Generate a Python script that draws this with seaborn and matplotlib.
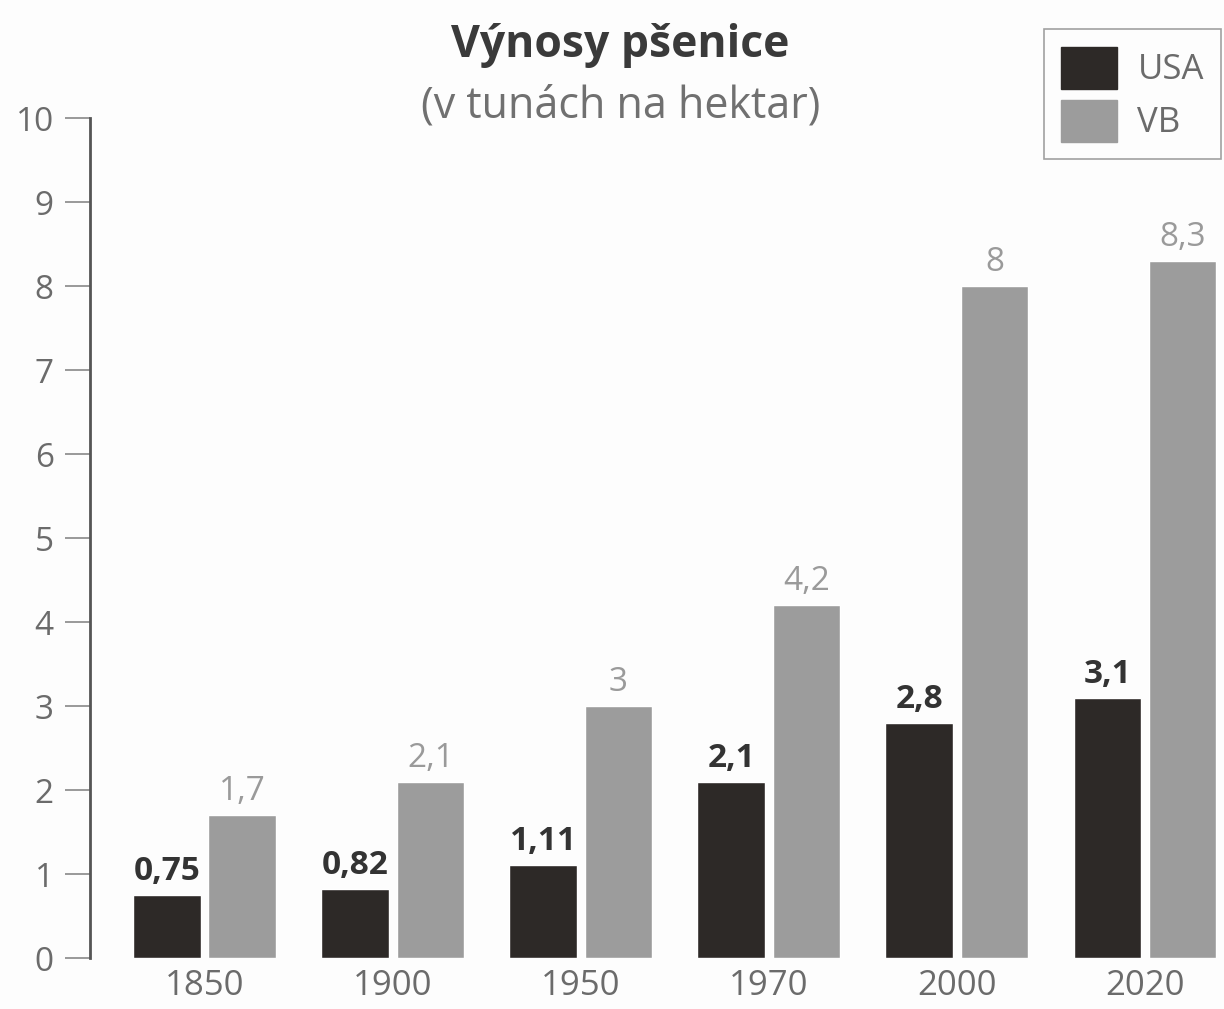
import matplotlib
matplotlib.use("Agg")
import matplotlib.pyplot as plt
import seaborn as sns
import pandas as pd

# data
years = ["1850", "1900", "1950", "1970", "2000", "2020"]
usa = [0.75, 0.82, 1.11, 2.1, 2.8, 3.1]
vb = [1.7, 2.1, 3.0, 4.2, 8.0, 8.3]
countries = ["USA", "VB"]
y_ticks = list(range(0, 11))

title = "Výnosy pšenice"
subtitle = "(v tunách na hektar)"

df = pd.DataFrame({
    "year": years * 2,
    "value": usa + vb,
    "country": ["USA"] * len(years) + ["VB"] * len(years),
})

sns.set_style("white")
plt.rcParams["font.family"] = ["Open Sans", "DejaVu Sans"]

axis_grey = "#6b6b6b"
colors = {"USA": "#2d2927", "VB": "#9c9c9c"}

fig = plt.figure(figsize=(12.24, 10.09), dpi=100)
fig.patch.set_facecolor("#fdfdfd")
ax = fig.add_axes([0.0735, 0.0505, 0.9265, 0.8325])
ax.set_facecolor("#fdfdfd")

sns.barplot(
    data=df, x="year", y="value", hue="country",
    hue_order=countries, palette=colors,
    width=0.8, gap=0.1, saturation=1, ax=ax, legend=False,
)

ax.set_xlim(-0.61, 5.42)
ax.set_ylim(0, 10)
ax.set_yticks(y_ticks)
ax.set_xlabel("")
ax.set_ylabel("")

for side in ["top", "right", "bottom"]:
    ax.spines[side].set_visible(False)
ax.spines["left"].set_color("#555555")
ax.spines["left"].set_linewidth(2)

ax.tick_params(axis="y", left=True, length=18, width=1.2, color="#888888",
               labelsize=24, labelcolor=axis_grey, pad=8)
ax.tick_params(axis="x", bottom=False, length=0, labelsize=25,
               labelcolor=axis_grey, pad=8)

# value labels above each bar, decimal comma
label_styles = [
    dict(color="#333333", fontweight="bold"),
    dict(color="#9a9a9a", fontweight="normal"),
]
for cont, vals, style in zip(ax.containers, [usa, vb], label_styles):
    ax.bar_label(cont, labels=[f"{v:g}".replace(".", ",") for v in vals],
                 padding=5, fontsize=24, **style)

fig.text(0.507, 0.955, title, ha="center", va="center",
         fontsize=32, fontweight="bold", color="#3a3a3a")
fig.text(0.507, 0.895, subtitle, ha="center", va="center",
         fontsize=31, color="#707070")

handles = [plt.Rectangle((0, 0), 1, 1, color=colors[c]) for c in countries]
leg = fig.legend(
    handles, countries, loc="upper right", bbox_to_anchor=(1.012, 0.988),
    fontsize=25, handlelength=1.6, handleheight=1.5, handletextpad=0.6,
    labelspacing=0.3, borderpad=0.5, frameon=True, fancybox=False,
    labelcolor=axis_grey,
)
leg.get_frame().set_edgecolor("#8a8a8a")
leg.get_frame().set_linewidth(1.2)
leg.get_frame().set_facecolor("#fdfdfd")

fig.savefig("out.png", dpi=100, facecolor=fig.get_facecolor())
